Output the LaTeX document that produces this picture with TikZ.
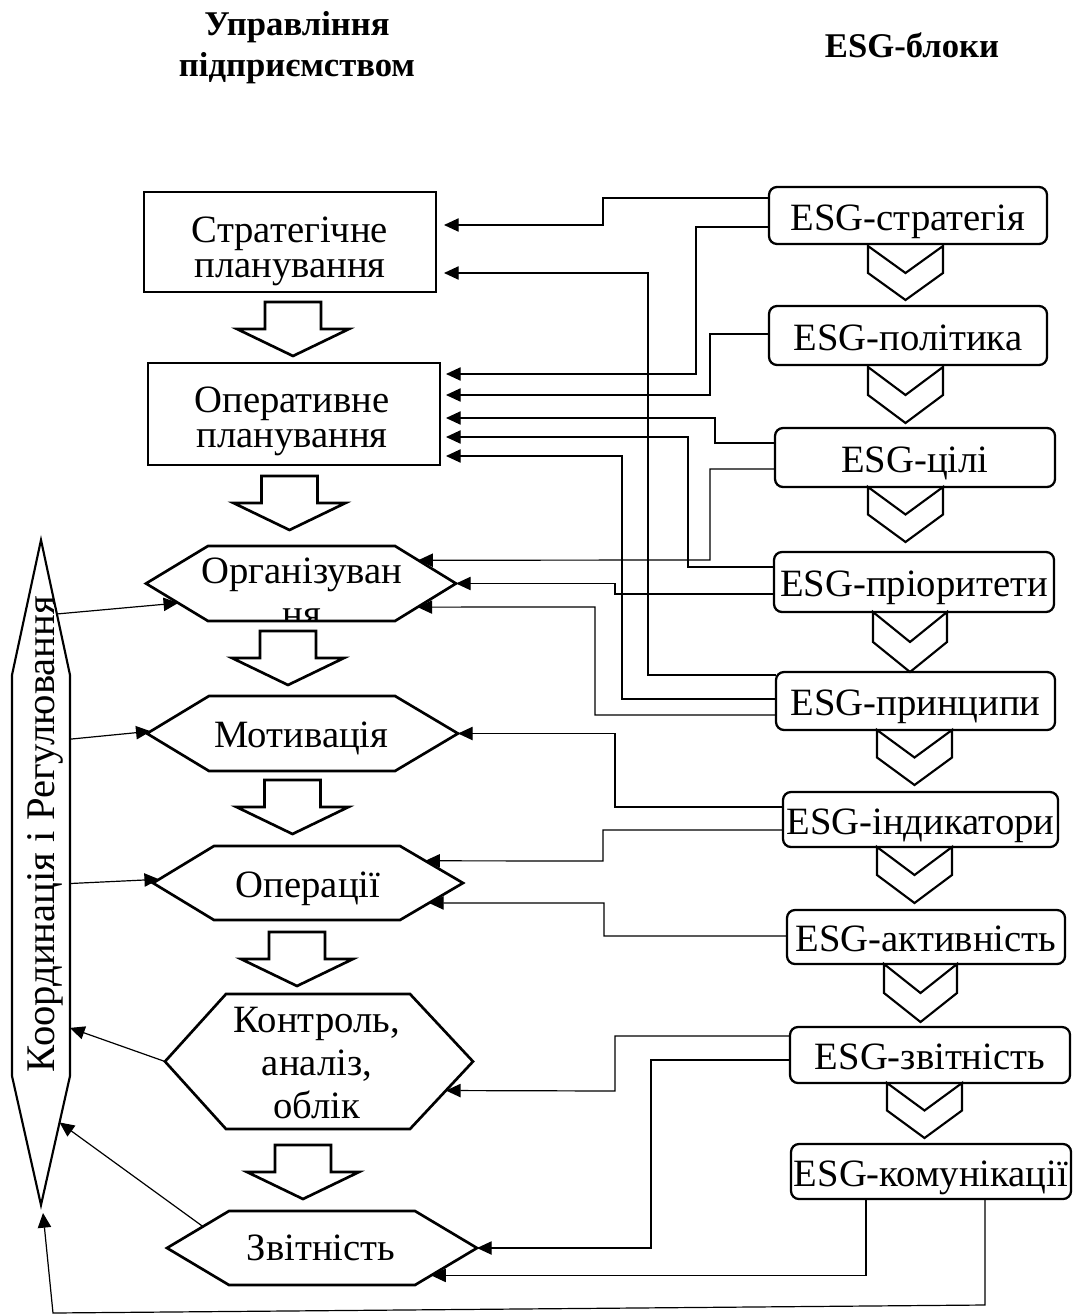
\documentclass[tikz,border=0pt]{standalone}
\usepackage{fontspec}
\setmainfont{Liberation Serif}
\usetikzlibrary{calc,arrows.meta}

% fonts
\newcommand\bodyfont{\fontsize{29}{26.25}\selectfont}
\newcommand\hexfont{\fontsize{29}{32.25}\selectfont}
\newcommand\sidefont{\fontsize{30.5}{34}\selectfont}
\newcommand\headfont{\fontsize{26}{30.75}\selectfont\bfseries}

\tikzset{
  conn/.style={line width=0.9pt, -{Triangle[length=11pt,width=10pt]}},
  mgmtbox/.style={draw, line width=2.1pt, rectangle, inner sep=0pt, outer sep=0pt},
  hexline/.style={draw, line width=2pt, line join=miter},
  sideshape/.style={draw, line width=1.6pt, line join=miter},
  esg/.style={draw, line width=1.7pt, rounded corners=6pt, inner sep=0pt, outer sep=0pt,
              font=\bodyfont, text height=24.6pt, text depth=2.6pt},
  blockarr/.style={draw, line width=2pt, line join=miter},
  chev/.style={draw, line width=1.6pt, line join=miter},
  txt/.style={inner sep=0pt, align=center, font=\bodyfont},
  hextxt/.style={inner sep=0pt, align=center, font=\hexfont},
  sidetxt/.style={inner sep=0pt, font=\sidefont},
  head/.style={inner sep=0pt, align=center, font=\headfont},
}

% hexagonal process block: name, x west, x inner-left, x inner-right, x east, y top, y bottom
\newcommand\hexblock[7]{%
  \coordinate (#1-w)  at (#2,{(#6+#7)/2});
  \coordinate (#1-nw) at (#3,#6);
  \coordinate (#1-ne) at (#4,#6);
  \coordinate (#1-e)  at (#5,{(#6+#7)/2});
  \coordinate (#1-se) at (#4,#7);
  \coordinate (#1-sw) at (#3,#7);
  \draw[hexline] (#1-w) -- (#1-nw) -- (#1-ne) -- (#1-e) -- (#1-se) -- (#1-sw) -- cycle;
}

% hollow down arrow between management stages: centre x, top y
\newcommand\mgmtarrow[2]{%
  \draw[blockarr] ({#1-28},#2) -- ({#1+28},#2) -- ({#1+28},{#2+27}) -- ({#1+56},{#2+27})
    -- (#1,{#2+54}) -- ({#1-56},{#2+27}) -- ({#1-28},{#2+27}) -- cycle;
}

% chevron between ESG blocks: left x, right x, top y, bottom y
\newcommand\esgchevron[4]{%
  \draw[chev] (#1,#3) -- ({(#1+#2)/2},{(#3+#4)/2}) -- (#2,#3) -- (#2,{(#3+#4)/2})
    -- ({(#1+#2)/2},#4) -- (#1,{(#3+#4)/2}) -- cycle;
}

% rounded ESG block: name, x1, y1, x2, y2, text
\newcommand\esgbox[6]{%
  \node[esg, minimum width={(#4-#2)*0.75pt}, minimum height={(#5-#3)*0.75pt}]
    (#1) at ({(#2+#4)/2},{(#3+#5)/2}) {#6};
}

\begin{document}
\begin{tikzpicture}[x=0.75pt, y=-0.75pt]
\useasboundingbox (0,0) rectangle (1074,1316);
\fill[white] (0,0) rectangle (1074,1316);

% column headings
\node[head] (h1) at (297,48) {Управління\\підприємством};
\node[head, anchor=base] (h2) at (912,58) {ESG-блоки};

% planning stages
\node[mgmtbox, minimum width=219pt, minimum height=75pt] (str) at (290,242) {};
\node[txt] (strt) at (290,251) {Стратегічне\\планування};
\mgmtarrow{293}{302}
\node[mgmtbox, minimum width=219pt, minimum height=76.5pt] (opr) at (294,414) {};
\node[txt] (oprt) at (292,421.5) {Оперативне\\планування};
\mgmtarrow{289.5}{476}

% organising (label runs past the lower edge and is cut by it)
\begin{scope}
  \clip (146,583) -- (208,546) -- (395,546) -- (456,583) -- (395,621) -- (208,621) -- cycle;
  \node[hextxt] (orgt) at (302,592) {Організуван\\ня};
\end{scope}
\hexblock{org}{146}{208}{395}{456}{546}{621}
\mgmtarrow{288}{631}

\hexblock{mot}{147}{209}{395}{458}{696}{771}
\node[txt, anchor=base] (mott) at (301.5,747) {Мотивація};
\mgmtarrow{292.5}{780}

\hexblock{op}{153}{214}{400}{463}{846}{920}
\node[txt, anchor=base] (opt) at (308,897) {Операції};
\mgmtarrow{297}{932}

\hexblock{ctl}{165}{226}{410}{473}{994}{1129}
\node[hextxt] (ctlt) at (317,1063) {Контроль,\\аналіз,\\облік};
\mgmtarrow{303}{1145}

\hexblock{zv}{167}{229}{415}{477}{1211}{1285}
\node[txt, anchor=base] (zvt) at (321,1260) {Звітність};

% coordination and regulation side block
\coordinate (k-t)  at (41,540);
\coordinate (k-ur) at (70,675);
\coordinate (k-lr) at (70,1076);
\coordinate (k-b)  at (41,1205);
\coordinate (k-ll) at (12,1076);
\coordinate (k-ul) at (12,675);
\draw[sideshape] (k-t) -- (k-ur) -- (k-lr) -- (k-b) -- (k-ll) -- (k-ul) -- cycle;
\node[sidetxt, rotate=90, anchor=base] (kt) at (54,834) {Координація і Регулювання};

% ESG blocks
\esgbox{s1}{769}{187}{1047}{244}{ESG-стратегія}
\esgchevron{868}{943}{246}{300}
\esgbox{s2}{769}{306}{1047}{365}{ESG-політика}
\esgchevron{868}{943}{367}{423}
\esgbox{s3}{775}{428}{1055}{487}{ESG-цілі}
\esgchevron{868}{943}{487}{542}
\esgbox{s4}{774}{552}{1054}{612}{ESG-пріоритети}
\esgchevron{873}{947}{612}{672}
\esgbox{s5}{776}{672}{1055}{730}{ESG-принципи}
\esgchevron{877}{952}{730}{785}
\esgbox{s6}{783}{792}{1058}{847}{ESG-індикатори}
\esgchevron{877}{952}{847}{903}
\esgbox{s7}{787}{910}{1065}{964}{ESG-активність}
\esgchevron{884}{957}{964}{1022}
\esgbox{s8}{790}{1027}{1070}{1083}{ESG-звітність}
\esgchevron{887}{962}{1083}{1138}
\esgbox{s9}{791}{1144}{1071}{1199}{ESG-комунікації}

% links from ESG blocks to management stages
\draw[conn] ($(s1.west)+(0,-17.5)$) -| (603,225) -- ($(str.east)+(8,-17)$);
\draw[conn] ($(s1.west)+(0,11.5)$) -| (696,374) -- ($(opr.east)+(6,-40)$);
\draw[conn] ($(s5.west)+(0,-26)$) -| (648,273) -- ($(str.east)+(8,31)$);
\draw[conn] ($(s2.west)+(0,-1.5)$) -| (710,395) -- ($(opr.east)+(6,-19)$);
\draw[conn] ($(s3.west)+(0,-14.5)$) -| (715,418) -- ($(opr.east)+(6,4)$);
\draw[conn] ($(s4.west)+(0,-15)$) -| (688,437) -- ($(opr.east)+(6,23)$);
\draw[conn] ($(s5.west)+(0,-2)$) -| (622,456) -- ($(opr.east)+(6,42)$);
\draw[conn] ($(s3.west)+(0,11.5)$) -| (710,560) -- ($(org-ne)!0.38!(org-e)$);
\draw[conn] ($(s4.west)+(0,12)$) -| (615,583.5) -- (org-e);
\draw[conn] ($(s5.west)+(0,14)$) -| (595,607) -- ($(org-e)!0.63!(org-se)$);
\draw[conn] ($(s6.west)+(0,-12.5)$) -| (615,733.5) -- (mot-e);
\draw[conn] ($(s6.west)+(0,10.5)$) -| (603,861) -- ($(op-ne)!0.4!(op-e)$);
\draw[conn] ($(s7.west)+(0,-1)$) -| (604,903) -- ($(op-e)!0.54!(op-se)$);
\draw[conn] ($(s8.west)+(0,-19)$) -| (615,1091) -- ($(ctl-e)!0.43!(ctl-se)$);
\draw[conn] ($(s8.west)+(0,5)$) -| (651,1248) -- (zv-e);
\draw[conn] ($(s9.south)+(-65,0)$) |- ($(zv-e)!0.74!(zv-se)$);
\draw[conn] ($(s9.south)+(54,0)$) -- ++(0,106) -- (53,1313) -- ($(k-b)+(2,8)$);

% links between the side block and the stages
\draw[conn] ($(k-t)!0.548!(k-ur)$) -- ($(org-w)!0.52!(org-sw)$);
\draw[conn] ($(k-ur)!0.16!(k-lr)$) -- ($(mot-w)!0.06!(mot-nw)$);
\draw[conn] ($(k-ur)!0.52!(k-lr)$) -- ($(op-w)!0.1!(op-nw)$);
\draw[conn] (ctl-w) -- ($(k-ur)!0.88!(k-lr)$);
\draw[conn] ($(zv-w)!0.58!(zv-nw)$) -- ($(k-lr)!0.36!(k-b)$);
\end{tikzpicture}
\end{document}
